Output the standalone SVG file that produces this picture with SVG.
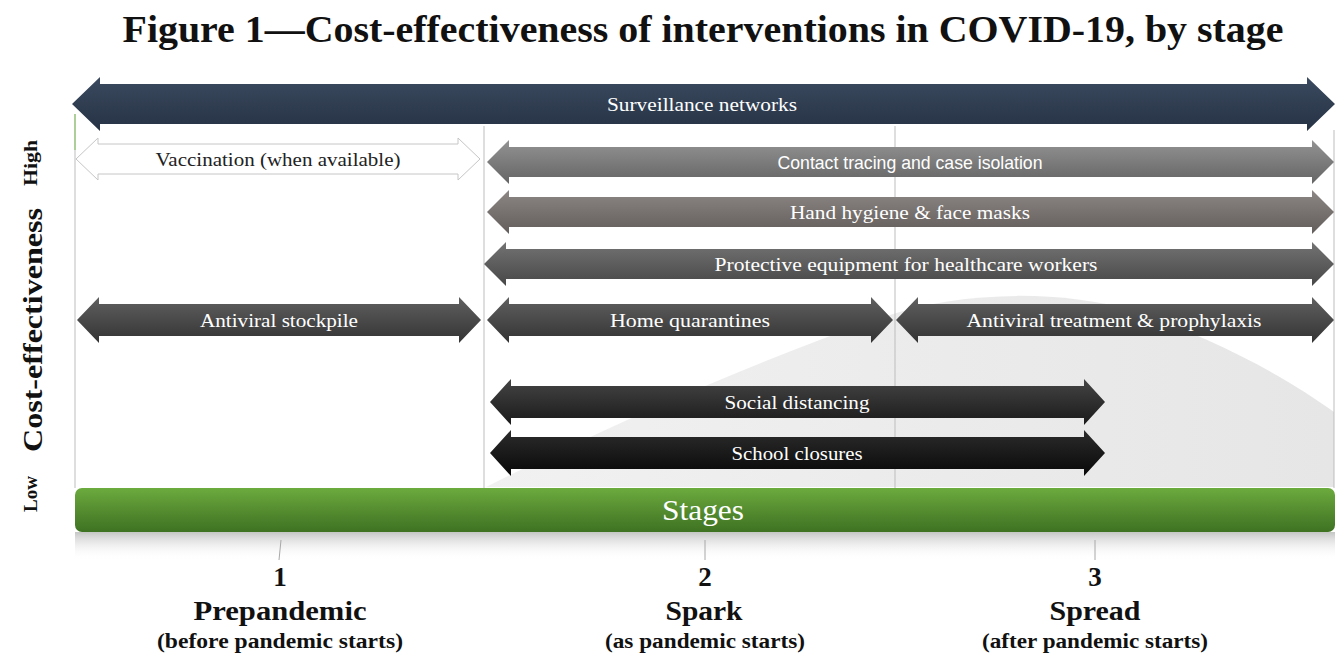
<svg xmlns="http://www.w3.org/2000/svg" width="1341" height="658" viewBox="0 0 1341 658">
<style>
.serif{font-family:"Liberation Serif","DejaVu Serif",serif}
.sans{font-family:"Liberation Sans","DejaVu Sans",sans-serif}
.lbl{fill:#ffffff;font-size:19px;text-anchor:middle;dominant-baseline:central}
.dark{fill:#222222}
.vline{stroke:#bdbdbd;stroke-width:1;fill:none}
.tick{stroke:#a8a8a8;stroke-width:1}
.num{font-size:27px;font-weight:bold;text-anchor:middle;fill:#111}
.stage{font-size:28px;font-weight:bold;text-anchor:middle;fill:#111}
.sub{font-size:20px;font-weight:bold;text-anchor:middle;fill:#111}
</style>
<defs>
<linearGradient id="gNavy" x1="0" y1="0" x2="0" y2="1"><stop offset="0" stop-color="#3b4a60"/><stop offset="1" stop-color="#263244"/></linearGradient>
<linearGradient id="gContact" x1="0" y1="0" x2="0" y2="1"><stop offset="0" stop-color="#939393"/><stop offset="1" stop-color="#646464"/></linearGradient>
<linearGradient id="gHand" x1="0" y1="0" x2="0" y2="1"><stop offset="0" stop-color="#8c8684"/><stop offset="1" stop-color="#625c5a"/></linearGradient>
<linearGradient id="gProt" x1="0" y1="0" x2="0" y2="1"><stop offset="0" stop-color="#737373"/><stop offset="1" stop-color="#474747"/></linearGradient>
<linearGradient id="gAnti" x1="0" y1="0" x2="0" y2="1"><stop offset="0" stop-color="#606060"/><stop offset="1" stop-color="#333333"/></linearGradient>
<linearGradient id="gSocial" x1="0" y1="0" x2="0" y2="1"><stop offset="0" stop-color="#444444"/><stop offset="1" stop-color="#1a1a1a"/></linearGradient>
<linearGradient id="gSchool" x1="0" y1="0" x2="0" y2="1"><stop offset="0" stop-color="#2c2c2c"/><stop offset="1" stop-color="#080808"/></linearGradient>
<linearGradient id="gGreen" x1="0" y1="0" x2="0" y2="1"><stop offset="0" stop-color="#6cab3e"/><stop offset="0.5" stop-color="#558d30"/><stop offset="1" stop-color="#3e7222"/></linearGradient>
<linearGradient id="gShadow" x1="0" y1="0" x2="0" y2="1"><stop offset="0" stop-color="#c4c6c4"/><stop offset="1" stop-color="#ffffff" stop-opacity="0"/></linearGradient>
<linearGradient id="gBell" x1="0" y1="0" x2="1" y2="0"><stop offset="0" stop-color="#f1f1f1"/><stop offset="1" stop-color="#e6e6e6"/></linearGradient>
</defs>
<rect width="1341" height="658" fill="#ffffff"/>

<text class="serif" x="703" y="42" font-size="38" font-weight="bold" text-anchor="middle" fill="#111" textLength="1161" lengthAdjust="spacingAndGlyphs">Figure 1—Cost-effectiveness of interventions in COVID-19, by stage</text>

<g id="background">
<path d="M486,487 C620,420 760,360 880,318 C960,290 1060,290 1130,310 C1220,340 1290,380 1334,412 L1334,487 Z" fill="url(#gBell)"/>
<line class="vline" x1="75" y1="114" x2="75" y2="488"/>
<line x1="75" y1="114" x2="75" y2="150" stroke="#8cc46a" stroke-width="1.2"/>
<line class="vline" x1="484" y1="126" x2="484" y2="488"/>
<line class="vline" x1="895" y1="126" x2="895" y2="488"/>
<line class="vline" x1="1334" y1="130" x2="1334" y2="488"/>
</g>

<g id="axis">
<text class="serif" transform="translate(42,330) rotate(-90)" font-size="28" font-weight="bold" text-anchor="middle" fill="#111" textLength="244" lengthAdjust="spacingAndGlyphs">Cost-effectiveness</text>
<text class="serif" transform="translate(37,163) rotate(-90)" font-size="19" font-weight="bold" text-anchor="middle" fill="#111" textLength="46" lengthAdjust="spacingAndGlyphs">High</text>
<text class="serif" transform="translate(37,494) rotate(-90)" font-size="18" font-weight="bold" text-anchor="middle" fill="#111" textLength="36" lengthAdjust="spacingAndGlyphs">Low</text>
</g>

<g id="connectors">
<g id="surveillance">
<path d="M72,104 L100,77 L100,84 L1307,84 L1307,77 L1335,104 L1307,131 L1307,124 L100,124 L100,131 Z" fill="url(#gNavy)"/>
<text class="serif lbl" x="702" y="104" textLength="190" lengthAdjust="spacingAndGlyphs">Surveillance networks</text>
</g>
<g id="vaccination">
<path d="M76,159 L98,138 L98,144 L458,144 L458,138 L480,159 L458,180 L458,174 L98,174 L98,180 Z" fill="#ffffff" stroke="#c6c6c6" stroke-width="1"/>
<text class="serif lbl dark" x="278" y="159" textLength="245" lengthAdjust="spacingAndGlyphs">Vaccination (when available)</text>
</g>
<g id="contact">
<path d="M487,162 L509,140 L509,147 L1312,147 L1312,140 L1334,162 L1312,184 L1312,177 L509,177 L509,184 Z" fill="url(#gContact)"/>
<text class="sans lbl" x="910" y="162" font-size="17" textLength="265" lengthAdjust="spacingAndGlyphs">Contact tracing and case isolation</text>
</g>
<g id="hand">
<path d="M487,212 L509,190 L509,197 L1312,197 L1312,190 L1334,212 L1312,234 L1312,227 L509,227 L509,234 Z" fill="url(#gHand)"/>
<text class="serif lbl" x="910" y="212" textLength="240" lengthAdjust="spacingAndGlyphs">Hand hygiene &amp; face masks</text>
</g>
<g id="protective">
<path d="M484,264 L506,242 L506,249 L1312,249 L1312,242 L1334,264 L1312,286 L1312,279 L506,279 L506,286 Z" fill="url(#gProt)"/>
<text class="serif lbl" x="906" y="264" textLength="383" lengthAdjust="spacingAndGlyphs">Protective equipment for healthcare workers</text>
</g>
<g id="stockpile">
<path d="M77,320 L99,297 L99,304 L459,304 L459,297 L481,320 L459,343 L459,336 L99,336 L99,343 Z" fill="url(#gAnti)"/>
<text class="serif lbl" x="279" y="320" textLength="158" lengthAdjust="spacingAndGlyphs">Antiviral stockpile</text>
</g>
<g id="quarantine">
<path d="M487,320 L509,297 L509,304 L871,304 L871,297 L893,320 L871,343 L871,336 L509,336 L509,343 Z" fill="url(#gAnti)"/>
<text class="serif lbl" x="690" y="320" textLength="160" lengthAdjust="spacingAndGlyphs">Home quarantines</text>
</g>
<g id="treatment">
<path d="M896,320 L918,297 L918,304 L1312,304 L1312,297 L1334,320 L1312,343 L1312,336 L918,336 L918,343 Z" fill="url(#gAnti)"/>
<text class="serif lbl" x="1114" y="320" textLength="295" lengthAdjust="spacingAndGlyphs">Antiviral treatment &amp; prophylaxis</text>
</g>
<g id="social">
<path d="M490,402 L511,379 L511,386 L1084,386 L1084,379 L1105,402 L1084,425 L1084,418 L511,418 L511,425 Z" fill="url(#gSocial)"/>
<text class="serif lbl" x="797" y="402" textLength="145" lengthAdjust="spacingAndGlyphs">Social distancing</text>
</g>
<g id="school">
<path d="M490,453 L511,430 L511,437 L1084,437 L1084,430 L1105,453 L1084,476 L1084,469 L511,469 L511,476 Z" fill="url(#gSchool)"/>
<text class="serif lbl" x="797" y="453" textLength="131" lengthAdjust="spacingAndGlyphs">School closures</text>
</g>
</g>

<g id="stages">
<rect x="75" y="532" width="1260" height="28" fill="url(#gShadow)"/>
<rect x="75" y="488" width="1260" height="44" rx="7" fill="url(#gGreen)"/>
<text class="serif" x="703" y="520" font-size="29" text-anchor="middle" fill="#ffffff" textLength="82" lengthAdjust="spacingAndGlyphs">Stages</text>
<line class="tick" x1="281" y1="540" x2="279" y2="560"/>
<line class="tick" x1="705" y1="540" x2="705" y2="560"/>
<line class="tick" x1="1095" y1="540" x2="1095" y2="560"/>
</g>

<g id="stage1">
<text class="serif num" x="280" y="586">1</text>
<text class="serif stage" x="280" y="620" textLength="173" lengthAdjust="spacingAndGlyphs">Prepandemic</text>
<text class="serif sub" x="280" y="648" textLength="246" lengthAdjust="spacingAndGlyphs">(before pandemic starts)</text>
</g>
<g id="stage2">
<text class="serif num" x="705" y="586">2</text>
<text class="serif stage" x="704" y="620" textLength="77" lengthAdjust="spacingAndGlyphs">Spark</text>
<text class="serif sub" x="705" y="648" textLength="200" lengthAdjust="spacingAndGlyphs">(as pandemic starts)</text>
</g>
<g id="stage3">
<text class="serif num" x="1095" y="586">3</text>
<text class="serif stage" x="1095" y="620" textLength="91" lengthAdjust="spacingAndGlyphs">Spread</text>
<text class="serif sub" x="1095" y="648" textLength="226" lengthAdjust="spacingAndGlyphs">(after pandemic starts)</text>
</g>
</svg>
